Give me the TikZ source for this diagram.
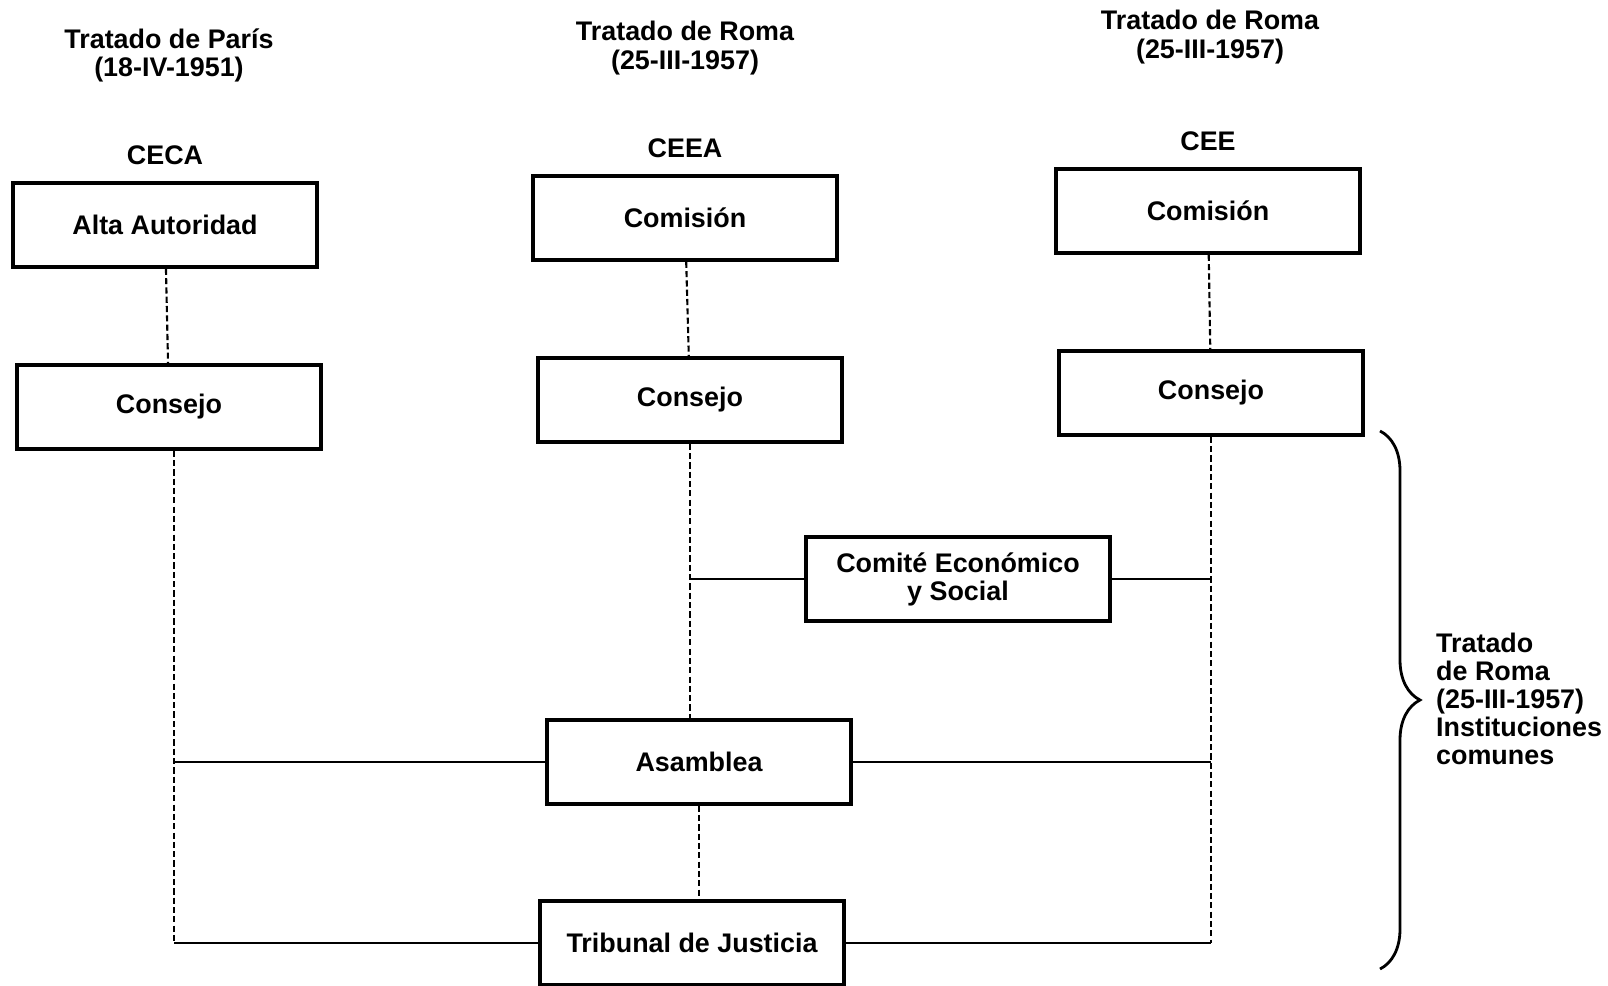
\documentclass[tikz,border=0pt]{standalone}
\usepackage{fontspec}
\setmainfont{Liberation Sans}
\usetikzlibrary{positioning,decorations.pathreplacing}
\begin{document}
\begin{tikzpicture}[x=0.02cm,y=-0.02cm,
  font=\fontsize{15.3}{16}\selectfont\bfseries,
  caja/.style={draw,line width=2pt,minimum width=6.08cm,minimum height=1.68cm,align=center},
  discont/.style={line width=1.2pt,dash pattern=on 3.5pt off 1.8pt},
  cont/.style={line width=1.2pt}]
\useasboundingbox (0,0) rectangle (1608,986);

% tratados
\node[align=center] (parisT) at (169,55) {Tratado de París\\(18-IV-1951)};
\node[align=center] (romaT1) at (685,48) {Tratado de Roma\\(25-III-1957)};
\node[align=center] (romaT2) at (1210,37) {Tratado de Roma\\(25-III-1957)};

% cajas
\node[caja] (alta) at (165,225) {Alta Autoridad};
\node[caja] (comisionA) at (685,218) {Comisión};
\node[caja] (comisionB) at (1208,211) {Comisión};
\node[caja] (consejoA) at (169,407) {Consejo};
\node[caja] (consejoB) at (690,400) {Consejo};
\node[caja] (consejoC) at (1211,393) {Consejo};
\node[caja] (comite) at (958,579) {Comité Económico\\y Social};
\node[caja] (asamblea) at (699,762) {Asamblea};
\node[caja] (tribunal) at (692,943) {Tribunal de Justicia};

\node[above=0.2cm of alta] (ceca) {CECA};
\node[above=0.2cm of comisionA] (ceea) {CEEA};
\node[above=0.2cm of comisionB] (cee) {CEE};

% enlaces
\draw[discont] (alta) -- (consejoA);
\draw[discont] (comisionA) -- (consejoB);
\draw[discont] (comisionB) -- (consejoC);
\draw[discont] (consejoB.south) -- (consejoB.south |- asamblea.north);
\draw[discont] (asamblea.south) -- (asamblea.south |- tribunal.north);

\coordinate (izqA) at ([xshift=0.1cm]consejoA.south |- asamblea.west);
\coordinate (izqT) at ([xshift=0.1cm]consejoA.south |- tribunal.west);
\draw[discont] ([xshift=0.1cm]consejoA.south) -- (izqT);
\draw[cont] (izqA) -- (asamblea.west);
\draw[cont] (izqT) -- (tribunal.west);

\coordinate (derT) at (consejoC.south |- tribunal.east);
\draw[discont] (consejoC.south) -- (derT);
\draw[cont] (comite.east) -- (comite.east -| consejoC.south);
\draw[cont] (asamblea.east) -- (asamblea.east -| consejoC.south);
\draw[cont] (tribunal.east) -- (derT);
\draw[cont] (comite.west) -- (comite.west -| consejoB.south);

% llave
\coordinate (llaveA) at (1380,431);
\coordinate (llaveB) at (1380,969);
\draw[line width=1.6pt,decorate,decoration={brace,amplitude=0.8cm}] (llaveA) -- (llaveB);
\node[anchor=west,align=left] (comunes) at (1430,699) {Tratado\\de Roma\\(25-III-1957)\\Instituciones\\comunes};
\end{tikzpicture}
\end{document}
